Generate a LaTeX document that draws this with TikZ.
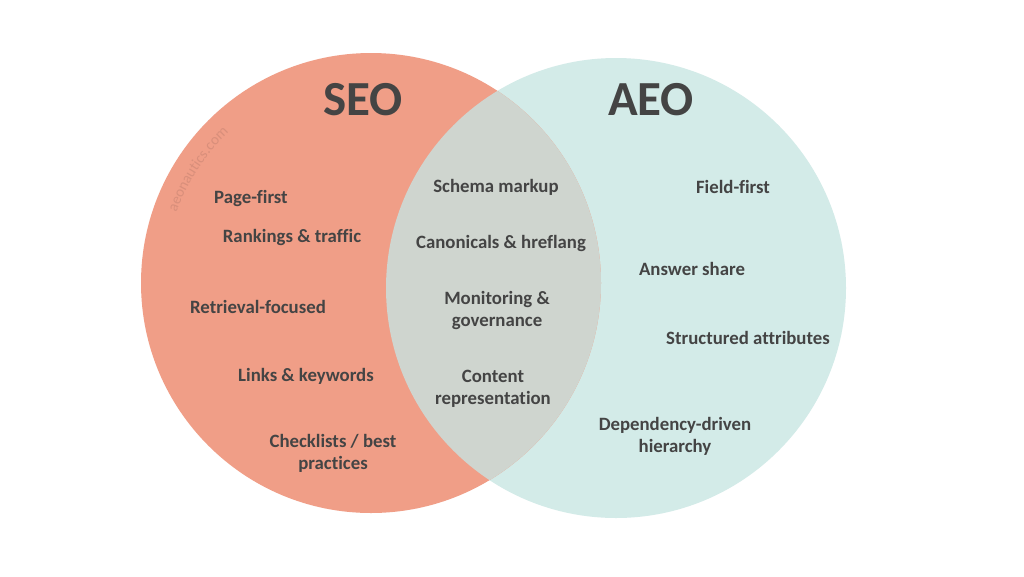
\documentclass[tikz,border=0pt]{standalone}
\usepackage{fontspec}
\setmainfont{Carlito}[Ligatures=NoCommon]
\usetikzlibrary{decorations.text}
\definecolor{seofill}{HTML}{F09E87}
\definecolor{aeofill}{HTML}{D3EBE8}
\definecolor{bothfill}{HTML}{CFD5CF}
\definecolor{inkgrey}{HTML}{444444}
\definecolor{markgrey}{HTML}{D98F7B}
\tikzset{
  item/.style={text=inkgrey, font=\fontsize{18.8}{22}\selectfont\bfseries, align=center, inner sep=0pt},
  head/.style={text=inkgrey, font=\fontsize{49}{54}\selectfont\bfseries, inner sep=0pt}
}
\begin{document}
\begin{tikzpicture}[x=1pt,y=-1pt]
    \useasboundingbox (0,0) rectangle (1024,576);
    \fill[white] (0,0) rectangle (1024,576);
    \fill[aeofill] (616,288) circle [radius=230pt];
    \fill[seofill] (371,283) circle [radius=230pt];
    \begin{scope}
        \clip (616,288) circle [radius=230pt];
        \fill[bothfill] (371,283) circle [radius=230pt];
    \end{scope}

    \node[head] (seo) at (363,100) {SEO};
    \node[head] (aeo) at (651,100) {AEO};

    \path[decorate,
        decoration={text along path, text={|\fontsize{15}{15}\selectfont\color{markgrey}|aeonautics.com}}]
        (176.5,212.2) .. controls (187.5,181.9) and (205.2,155) .. (228.5,132.8);

    % left side
    \node[item] (pagefirst) at (251,198) {Page-first};
    \node[item] (rankings) at (292,237) {Rankings \& traffic};
    \node[item] (retrieval) at (258,307) {Retrieval-focused};
    \node[item] (links) at (306,376) {Links \& keywords};
    \node[item] (checklists) at (333,453) {Checklists / best\\practices};

    % middle
    \node[item] (schema) at (496,187) {Schema markup};
    \node[item] (canonicals) at (501,243) {Canonicals \& hreflang};
    \node[item] (monitoring) at (497,310) {Monitoring \&\\governance};
    \node[item] (content) at (493,388.5) {Content\\representation};

    % right side
    \node[item] (fieldfirst) at (733,187) {Field-first};
    \node[item] (answer) at (692,269) {Answer share};
    \node[item] (structured) at (748,338) {Structured attributes};
    \node[item] (dependency) at (675,436) {Dependency-driven\\hierarchy};
\end{tikzpicture}
\end{document}
